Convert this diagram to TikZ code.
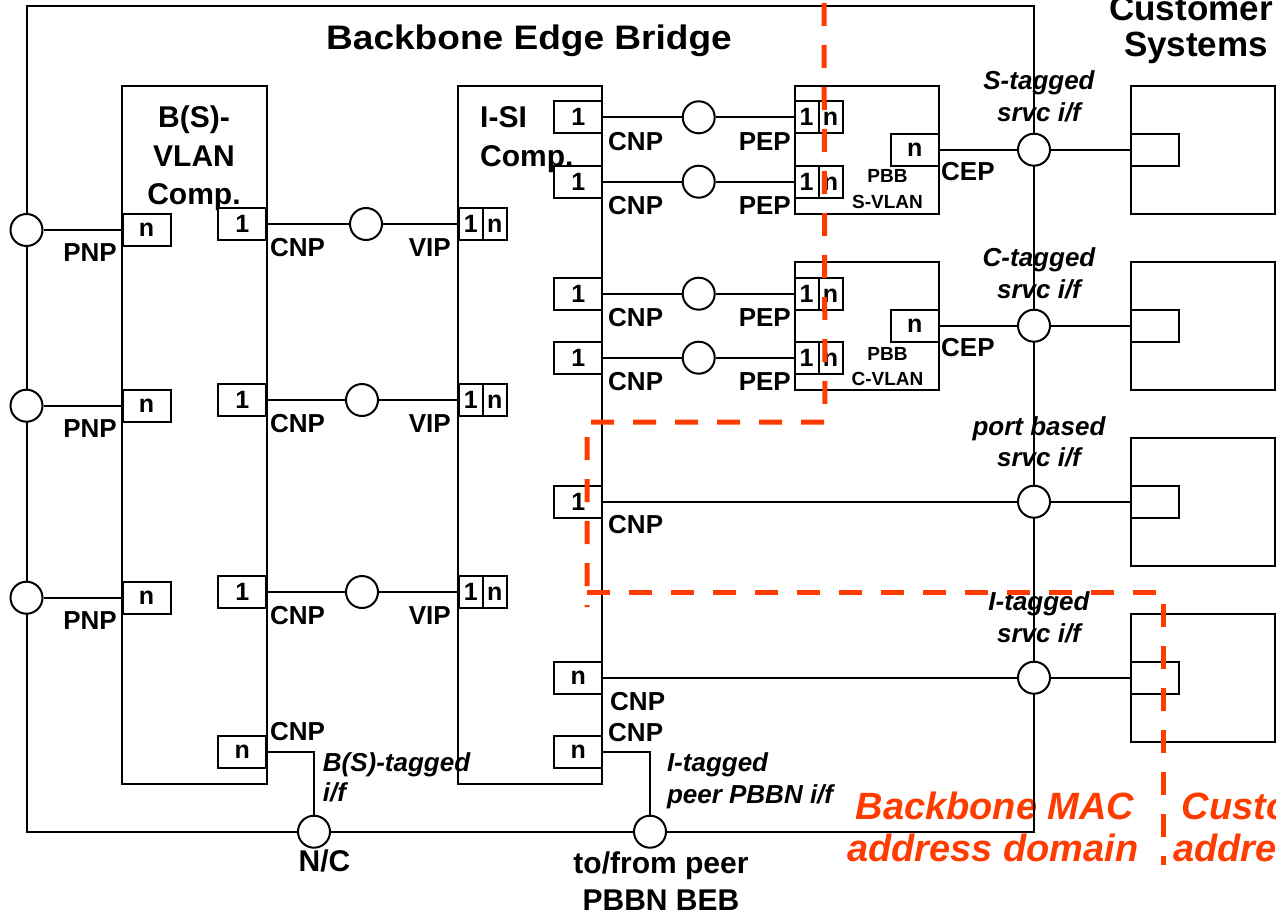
\documentclass[tikz,border=0pt]{standalone}
\usepackage{graphicx}
\usepackage{fontspec}
\setmainfont{Liberation Sans}
\usetikzlibrary{calc}

\definecolor{macred}{RGB}{255,60,0}
\newcommand{\portfont}{\fontsize{25}{30}\selectfont\bfseries}
\newcommand{\lblfont}{\fontsize{26}{30}\selectfont\bfseries}
\newcommand{\tagfont}{\fontsize{26}{30}\selectfont\bfseries\itshape}
\newcommand{\compfont}{\fontsize{30}{36}\selectfont\bfseries}
\newcommand{\pbbfont}{\fontsize{19}{22}\selectfont\bfseries}
\newcommand{\bigfont}{\fontsize{30}{36}\selectfont\bfseries}
\newcommand{\headfont}{\fontsize{35}{40}\selectfont\bfseries}
\newcommand{\titlefont}{\fontsize{34}{40}\selectfont\bfseries}
\newcommand{\macfont}{\fontsize{38}{44}\selectfont\bfseries\itshape}
\newcommand{\halfbox}[1]{\makebox[24pt]{#1}}

\tikzset{
  wire/.style={line width=2pt},
  comp/.style={draw, line width=2pt},
  port/.style={draw, fill=white, line width=2pt, minimum width=48pt,
    minimum height=32pt, inner sep=0pt, font=\portfont},
  dport/.style={port, path picture={\draw[line width=2pt]
    (path picture bounding box.north) -- (path picture bounding box.south);}},
  sap/.style={circle, draw, fill=white, line width=2pt, minimum size=32pt, inner sep=0pt},
  lbl/.style={font=\lblfont, inner sep=0pt},
  tagtext/.style={font=\tagfont, inner sep=0pt, anchor=base},
  bigtext/.style={font=\bigfont, inner sep=0pt, anchor=base},
  maclbl/.style={font=\macfont, text=macred, inner sep=0pt},
  macline/.style={draw=macred, line width=5pt, dash pattern=on 23pt off 19pt},
}

\begin{document}
\begin{tikzpicture}[x=1pt, y=-1pt]
  \useasboundingbox (0,0) rectangle (1276,915);
  \clip (0,0) rectangle (1276,915);

  % address domains
  \node[maclbl, anchor=base] at (995,819.3) {Backbone MAC};
  \node[maclbl, anchor=base] at (993,861.7) {address domain};
  \node[maclbl, anchor=base west] at (1181.7,819.3) {Customer MAC};
  \node[maclbl, anchor=base west] at (1173,861.7) {address domain};

  % bridge, components and customer systems
  \draw[comp] (26.5,5.7) rectangle (1034,831.7);
  \draw[comp] (122.4,86) rectangle (266.5,783.5);
  \draw[comp] (458.4,86) rectangle (602.4,783.5);
  \draw[comp] (794.5,86) rectangle (938.5,213.5);
  \draw[comp] (794.5,262) rectangle (938.5,389.7);
  \foreach \t in {86, 262, 437.7, 613.7}
    \draw[comp] (1130.6,\t) rectangle (1275,\t+128);

  \node[font=\titlefont, inner sep=0pt, anchor=base] at (529,49.3)
    {\scalebox{1.09}[1]{Backbone Edge Bridge}};
  \node[font=\headfont, inner sep=0pt, anchor=base] at (1191,20.7) {Customer};
  \node[font=\headfont, inner sep=0pt, anchor=base] at (1196,56.7) {Systems};

  \node[font=\compfont, inner sep=0pt, anchor=base] at (194,128) {B(S)-};
  \node[font=\compfont, inner sep=0pt, anchor=base] at (194,166) {VLAN};
  \node[font=\compfont, inner sep=0pt, anchor=base] at (194,204) {Comp.};
  \node[font=\compfont, inner sep=0pt, anchor=base west] at (480,128) {I-SI};
  \node[font=\compfont, inner sep=0pt, anchor=base west] at (480,166) {Comp.};

  \node[font=\pbbfont, inner sep=0pt, anchor=base] at (887.5,182.7) {PBB};
  \node[font=\pbbfont, inner sep=0pt, anchor=base] at (887.5,208.3) {S-VLAN};
  \node[font=\pbbfont, inner sep=0pt, anchor=base] at (887.5,360) {PBB};
  \node[font=\pbbfont, inner sep=0pt, anchor=base] at (887.5,385.5) {C-VLAN};

  % B(S)-VLAN component to I-SI component
  \foreach \i/\cy/\py/\cx in {1/230/224/366, 2/405.7/400/362, 3/597.7/592/362} {
    \node[sap] (pnp\i) at (26.5,\cy) {};
    \node[port] (bn\i) at (146.5,\cy) {n};
    \node[port] (bone\i) at (242.2,\py) {1};
    \node[sap] (cnp\i) at (\cx,\py) {};
    \node[dport] (vip\i) at (482.7,\py) {\halfbox{1}\halfbox{n}};
    \draw[wire] (pnp\i) -- (bn\i);
    \draw[wire] (bone\i) -- (cnp\i) -- (vip\i);
    \node[lbl, anchor=base east] at (117,\cy+31.5) {PNP};
    \node[lbl, anchor=base west] at (270,\py+32.7) {CNP};
    \node[lbl, anchor=base east] at (451,\py+32.7) {VIP};
  }

  % I-SI component to PBB components
  \foreach \j/\y in {1/117.3, 2/181.7, 3/293.7, 4/357.7} {
    \node[port] (s\j) at (578.2,\y) {1};
    \node[sap] (pep\j) at (698.7,\y) {};
    \node[dport] (d\j) at (818.6,\y) {\halfbox{1}\halfbox{n}};
    \draw[wire] (s\j) -- (pep\j) -- (d\j);
    \node[lbl, anchor=base west] at (608,\y+32.7) {CNP};
    \node[lbl, anchor=base east] at (791,\y+32.7) {PEP};
  }
  \node[port] (s5) at (578.2,501.7) {1};
  \node[port] (s6) at (578.2,677.7) {n};
  \node[port] (s7) at (578.2,752) {n};
  \node[lbl, anchor=base west] at (608,533.3) {CNP};
  \node[lbl, anchor=base west] at (610,710) {CNP};
  \node[lbl, anchor=base west] at (608,741.7) {CNP};

  \foreach \k/\y in {1/149.7, 2/325.7} {
    \node[port] (cep\k) at (914.8,\y) {n};
    \node[lbl, anchor=base west] at (941,\y+31) {CEP};
  }

  % service interfaces
  \foreach \k/\y in {1/149.7, 2/325.7, 3/501.7, 4/677.7} {
    \node[sap] (srv\k) at (1034,\y) {};
    \node[port] (cust\k) at (1154.5,\y) {};
    \draw[wire] (srv\k) -- (cust\k);
  }
  \draw[wire] (cep1) -- (srv1);
  \draw[wire] (cep2) -- (srv2);
  \draw[wire] (s5) -- (srv3);
  \draw[wire] (s6) -- (srv4);

  \foreach \a/\y in {{S-tagged}/90, {C-tagged}/266.7, {port based}/435, {I-tagged}/610.7} {
    \node[tagtext] at (1039,\y) {\a};
    \node[tagtext] at (1039,\y+31.5) {srvc i/f};
  }

  % bottom interfaces
  \node[port] (bnb) at (242.2,752) {n};
  \node[sap] (nc) at (314,831.7) {};
  \node[sap] (peer) at (650,831.7) {};
  \draw[wire] (bnb.east) -| (nc);
  \draw[wire] (s7.east) -| (peer);

  \node[lbl, anchor=base west] at (270,740) {CNP};
  \node[tagtext, anchor=base west] at (322.7,771.7) {B(S)-tagged};
  \node[tagtext, anchor=base west] at (322.7,801.7) {i/f};
  \node[bigtext] at (324.5,871.7) {N/C};
  \node[tagtext, anchor=base west] at (666.8,771.7) {I-tagged};
  \node[tagtext, anchor=base west] at (666.8,803.3) {peer PBBN i/f};
  \node[bigtext] at (661,873.3) {to/from peer};
  \node[bigtext] at (661,910) {PBBN BEB};

  % domain boundaries
  \draw[macline] (824,3) -- (825,422) -- (587,422) -- (587,607);
  \draw[macline] (587,592) -- (1163,592) -- (1163,865);
\end{tikzpicture}
\end{document}
